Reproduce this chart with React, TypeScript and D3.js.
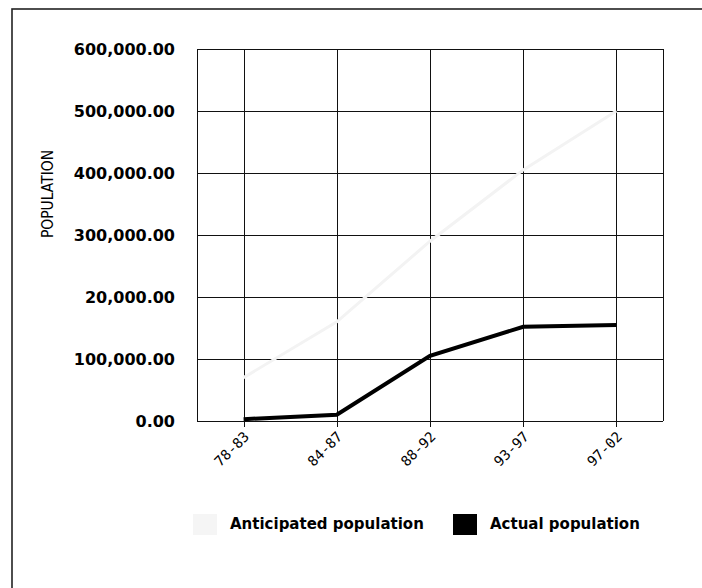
import React, { useEffect, useRef } from "react";
import * as d3 from "d3";

const periods = ["78-83", "84-87", "88-92", "93-97", "97-02"];
const anticipated = [70000, 160000, 290000, 405000, 500000];
const actual = [3000, 10000, 105000, 152000, 155000];
const yTicks = [0, 100000, 200000, 300000, 400000, 500000, 600000];
// the source chart really says 20,000.00 on the 200k line
const yTickLabels = [
  "0.00",
  "100,000.00",
  "20,000.00",
  "300,000.00",
  "400,000.00",
  "500,000.00",
  "600,000.00",
];
const seriesNames = ["Anticipated population", "Actual population"];

const W = 702,
  H = 588;

const App = () => {
  const svgRef = useRef<SVGSVGElement>(null);

  useEffect(() => {
    const svg = d3.select(svgRef.current);
    svg.selectAll("*").remove();

    const left = 197,
      right = 663,
      top = 49,
      bottom = 421;

    const x = d3.scaleBand().domain(periods).range([left, right]).padding(0);
    const y = d3.scaleLinear().domain([0, 600000]).range([bottom, top]);
    const cx = (d: string) => (x(d) as number) + x.bandwidth() / 2;

    // outer frame (runs off the right / bottom edge)
    svg
      .append("rect")
      .attr("x", 12)
      .attr("y", 9)
      .attr("width", W + 20)
      .attr("height", H + 20)
      .attr("fill", "none")
      .attr("stroke", "#222")
      .attr("stroke-width", 1.6);

    const grid = svg.append("g").attr("stroke", "#111").attr("stroke-width", 1);

    grid
      .selectAll("line.h")
      .data(yTicks)
      .enter()
      .append("line")
      .attr("x1", left)
      .attr("x2", right)
      .attr("y1", (d) => Math.round(y(d)) + 0.5)
      .attr("y2", (d) => Math.round(y(d)) + 0.5);

    grid
      .selectAll("line.v")
      .data(periods)
      .enter()
      .append("line")
      .attr("x1", (d) => Math.round(cx(d)) + 0.5)
      .attr("x2", (d) => Math.round(cx(d)) + 0.5)
      .attr("y1", top)
      .attr("y2", bottom + 6);

    grid
      .selectAll("line.edge")
      .data([left, right])
      .enter()
      .append("line")
      .attr("x1", (d) => d + 0.5)
      .attr("x2", (d) => d + 0.5)
      .attr("y1", top)
      .attr("y2", bottom);

    // y tick labels
    svg
      .append("g")
      .selectAll("text")
      .data(yTicks)
      .enter()
      .append("text")
      .attr("x", 175)
      .attr("y", (d) => y(d))
      .attr("dy", "0.36em")
      .attr("text-anchor", "end")
      .attr("font-family", "'DejaVu Sans', Verdana, sans-serif")
      .attr("font-weight", "bold")
      .attr("font-size", 16)
      .text((d, i) => yTickLabels[i]);

    // y axis title
    svg
      .append("text")
      .attr("transform", "translate(53,194) rotate(-90)")
      .attr("text-anchor", "middle")
      .attr("font-family", "'DejaVu Sans', sans-serif")
      .attr("font-size", 16)
      .attr("textLength", 88)
      .attr("lengthAdjust", "spacingAndGlyphs")
      .text("POPULATION");

    // x tick labels
    svg
      .append("g")
      .selectAll("text")
      .data(periods)
      .enter()
      .append("text")
      .attr("transform", (d) => `translate(${cx(d) + 3},${bottom + 13}) rotate(-45)`)
      .attr("text-anchor", "end")
      .attr("dy", "0.35em")
      .attr("font-family", "'DejaVu Sans Mono', monospace")
      .attr("font-size", 14)
      .text((d) => d);

    const line = d3
      .line<number>()
      .x((d, i) => cx(periods[i]))
      .y((d) => y(d));

    svg
      .append("path")
      .datum(anticipated)
      .attr("d", line)
      .attr("fill", "none")
      .attr("stroke", "#f3f3f3")
      .attr("stroke-width", 3);

    svg
      .append("path")
      .datum(actual)
      .attr("d", line)
      .attr("fill", "none")
      .attr("stroke", "#000")
      .attr("stroke-width", 4);

    // legend
    const legend = svg.append("g");
    const items = [
      { name: seriesNames[0], color: "#f5f5f5", sx: 193, tx: 230 },
      { name: seriesNames[1], color: "#000", sx: 453, tx: 490 },
    ];
    items.forEach((it) => {
      legend
        .append("rect")
        .attr("x", it.sx)
        .attr("y", 514)
        .attr("width", 24)
        .attr("height", 21)
        .attr("fill", it.color);
      legend
        .append("text")
        .attr("x", it.tx)
        .attr("y", 524)
        .attr("dy", "0.35em")
        .attr("font-family", "'Comic Sans MS', 'DejaVu Sans', sans-serif")
        .attr("font-weight", "bold")
        .attr("font-size", 15)
        .text(it.name);
    });
  }, []);

  return (
    <svg
      ref={svgRef}
      width={W}
      height={H}
      style={{ position: "absolute", left: 0, top: 0, background: "#fff" }}
    ></svg>
  );
};

export default App;
